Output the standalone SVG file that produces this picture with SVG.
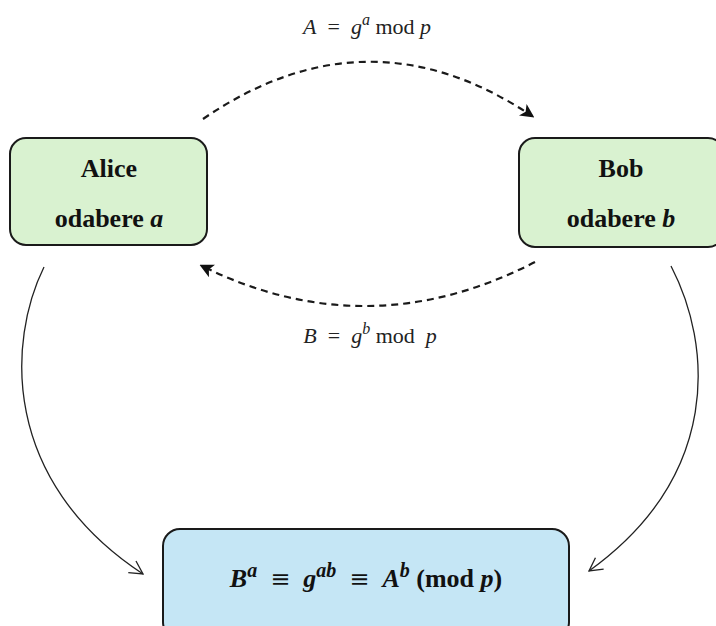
<svg xmlns="http://www.w3.org/2000/svg" width="716" height="626" viewBox="0 0 716 626">
<style>
.box{stroke:#1a1a1a;stroke-width:2}
.lbl{font-family:"Liberation Serif","Times New Roman",serif;font-weight:bold;font-size:26px;fill:#111;text-anchor:middle}
.math{font-family:"Liberation Serif","Times New Roman",serif;font-size:22px;fill:#222;text-anchor:middle}
.i{font-style:italic}
.eq{font-family:"DejaVu Serif",serif;font-weight:normal}
.dash{fill:none;stroke:#1a1a1a;stroke-width:2.2;stroke-dasharray:7,5}
.solid{fill:none;stroke:#222;stroke-width:1.3}
</style>
<defs>
<marker id="fb" viewBox="0 0 16 16" refX="15" refY="8" markerWidth="16" markerHeight="16" orient="auto" markerUnits="userSpaceOnUse">
<path d="M2,1 L15,8 L2,15" fill="none" stroke="#222" stroke-width="1.3"/>
</marker>
<marker id="fd" viewBox="0 0 10 10" refX="8" refY="5" markerWidth="14" markerHeight="14" orient="auto" markerUnits="userSpaceOnUse">
<path d="M0,0 L10,5 L0,10 L2.5,5 Z" fill="#111"/>
</marker>
</defs>
<rect width="716" height="626" fill="#fff"/>
<g id="connectors">
<path class="dash" d="M203,119 Q368,6 532,116" marker-end="url(#fd)"/>
<path class="dash" d="M535,262 Q368,348 202,266" marker-end="url(#fd)"/>
<path class="solid" d="M44,267 C8,340 0,480 143,574" marker-end="url(#fb)"/>
<path class="solid" d="M671,266 C712,345 722,475 589,571" marker-end="url(#fb)"/>
</g>
<g id="labelA"><text class="math" x="367" y="34"><tspan class="i">A</tspan><tspan xml:space="preserve">  =  </tspan><tspan class="i">g</tspan><tspan class="i" font-size="16" dy="-9">a</tspan><tspan dy="9" xml:space="preserve"> mod </tspan><tspan class="i">p</tspan></text></g>
<g id="labelB"><text class="math" x="370" y="343" xml:space="preserve"><tspan class="i">B</tspan>  =  <tspan class="i">g</tspan><tspan class="i" font-size="16" dy="-9">b</tspan><tspan dy="9"> mod  </tspan><tspan class="i">p</tspan></text></g>
<g id="alice">
<rect class="box" x="10" y="138" width="197" height="107" rx="16" fill="#d9f2d0"/>
<text class="lbl" x="109" y="177">Alice</text>
<text class="lbl" x="109" y="227">odabere <tspan class="i">a</tspan></text>
</g>
<g id="bob">
<rect class="box" x="519" y="138" width="205" height="109" rx="16" fill="#d9f2d0"/>
<text class="lbl" x="621" y="177">Bob</text>
<text class="lbl" x="621" y="227">odabere <tspan class="i">b</tspan></text>
</g>
<g id="result">
<rect class="box" x="163" y="529" width="406" height="110" rx="17" fill="#c5e6f5"/>
<text class="lbl" x="366" y="587" font-size="28" xml:space="preserve"><tspan class="i">B</tspan><tspan class="i" font-size="20" dy="-10">a</tspan><tspan dy="10">  </tspan><tspan class="eq" font-size="24">≡</tspan>  <tspan class="i">g</tspan><tspan class="i" font-size="20" dy="-10">ab</tspan><tspan dy="10">  </tspan><tspan class="eq" font-size="24">≡</tspan>  <tspan class="i">A</tspan><tspan class="i" font-size="20" dy="-10">b</tspan><tspan dy="10"> (mod </tspan><tspan class="i">p</tspan>)</text>
</g>
</svg>
